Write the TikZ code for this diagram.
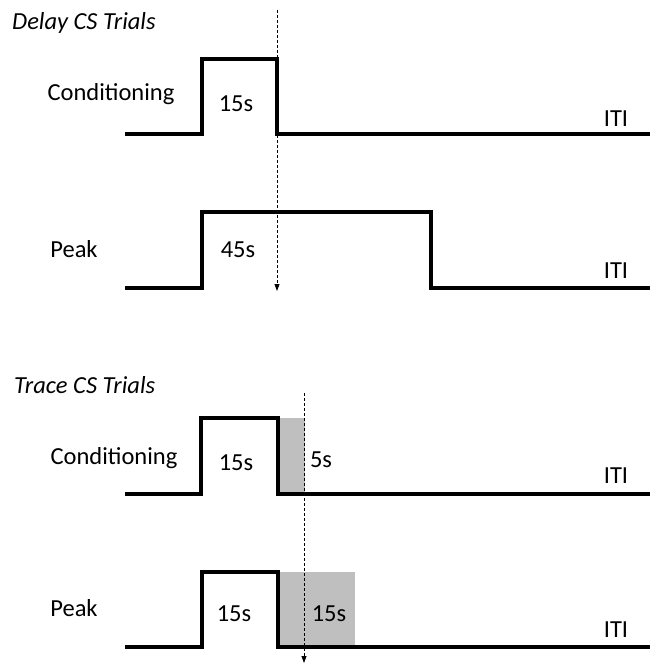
\documentclass[tikz,border=0pt]{standalone}
\usepackage{fontspec}
\setmainfont{Carlito}
\usetikzlibrary{arrows.meta}
\definecolor{tracegray}{RGB}{191,191,191}
\begin{document}
\begin{tikzpicture}[x=1pt,y=-1pt,
  wave/.style={line width=3.5pt,line join=miter},
  marker/.style={densely dashed,line width=0.8pt,-{Triangle[length=7pt,width=5pt]}},
  lbl/.style={font=\fontsize{24.5}{29}\selectfont,inner sep=0pt},
  ttl/.style={font=\fontsize{24.5}{29}\selectfont\itshape,inner sep=0pt,anchor=west}]
\useasboundingbox (0,0) rectangle (650,663);
% shaded trace intervals
\fill[tracegray] (278,418) rectangle (305,494);
\fill[tracegray] (278,572) rectangle (355,647);
% waveforms
\draw[wave] (125,134) -- (202,134) -- (202,59) -- (277,59) -- (277,134) -- (650,134);
\draw[wave] (125,288) -- (202,288) -- (202,212) -- (431,212) -- (431,288) -- (650,288);
\draw[wave] (125,494) -- (201,494) -- (201,418) -- (278,418) -- (278,494) -- (650,494);
\draw[wave] (125,647) -- (202,647) -- (202,572) -- (278,572) -- (278,647) -- (650,647);
% time markers
\coordinate (m1s) at (277,10);
\coordinate (m1e) at (277,291);
\coordinate (m2s) at (304,393);
\coordinate (m2e) at (304,663);
\draw[marker] (m1s) -- (m1e);
\draw[marker] (m2s) -- (m2e);
% labels
\node[ttl] (t1) at (12,23) {Delay CS Trials};
\node[lbl] (c1) at (111,94) {Conditioning};
\node[lbl] (d1) at (236,104) {15s};
\node[lbl] (i1) at (616,119) {ITI};
\node[lbl] (p1) at (74,249) {Peak};
\node[lbl] (d2) at (238,250) {45s};
\node[lbl] (i2) at (616,271) {ITI};
\node[ttl] (t2) at (14,385) {Trace CS Trials};
\node[lbl] (c2) at (114,458) {Conditioning};
\node[lbl] (d3) at (236,463) {15s};
\node[lbl] (d4) at (321,460) {5s};
\node[lbl] (i3) at (616,476) {ITI};
\node[lbl] (p2) at (74,608) {Peak};
\node[lbl] (d5) at (234,614) {15s};
\node[lbl] (d6) at (329,614) {15s};
\node[lbl] (i4) at (616,630) {ITI};
\end{tikzpicture}
\end{document}
